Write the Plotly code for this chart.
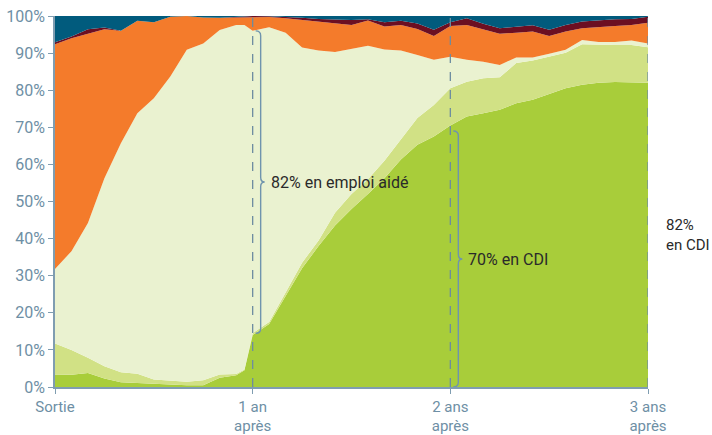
import plotly.graph_objects as go

# mois depuis la sortie (un point en plus juste avant "1 an")
mois = [0, 1, 2, 3, 4, 5, 6, 7, 8, 9, 10, 11, 11.5,
        12, 13, 14, 15, 16, 17, 18, 19, 20, 21, 22, 23, 24,
        25, 26, 27, 28, 29, 30, 31, 32, 33, 34, 35, 36]

# bornes supérieures cumulées (en %)
cdi = [3.4, 3.3, 3.8, 2.3, 1.3, 1.1, 0.7, 0.6, 0.5, 0.5, 2.5, 3.2, 4.5,
       14, 17, 24.5, 32, 38, 43.5, 48, 52, 56.3, 61.3, 65.3, 67.5, 70.5,
       72.9, 73.8, 74.7, 76.5, 77.4, 79, 80.5, 81.5, 82, 82.2, 82.1, 82]
cdd = [11.7, 10.0, 7.9, 5.6, 4.0, 3.6, 2.0, 1.8, 1.4, 1.8, 3.4, 3.5, 4.7,
       14.5, 17.5, 25.5, 33.5, 39.5, 47, 52, 56, 61, 66.6, 72.5, 76, 80.5,
       82.3, 83.2, 83.5, 87.3, 88.0, 89.0, 90.1, 92.4, 92.2, 92.2, 92.2, 91.6]
emploi_aide = [31.8, 36.6, 44.2, 56.3, 65.7, 73.8, 77.8, 83.7, 90.9, 92.6, 96.2, 97.6, 97.6,
               96.0, 97.0, 95.5, 91.5, 90.7, 90.3, 91.2, 92.0, 91.0, 90.7, 89.5, 88.2, 89.0,
               88.2, 87.7, 86.8, 88.8, 88.8, 89.8, 90.9, 93.5, 93.0, 93.0, 93.4, 92.6]
chomage = [92.4, 94.0, 95.2, 96.4, 96.0, 98.7, 98.3, 99.8, 100, 99.6, 99.5, 99.6, 99.7,
           99.7, 99.7, 99.4, 99.0, 98.5, 98.0, 97.6, 98.8, 97.2, 97.6, 96.5, 94.6, 97.3,
           97.6, 96.3, 95.2, 95.5, 95.8, 94.6, 95.8, 96.7, 97.1, 97.3, 97.6, 98.2]
inactivite = [92.9, 94.5, 96.4, 96.9, 96.0, 98.7, 98.3, 99.8, 100, 99.6, 99.5, 99.7, 99.8,
              100, 99.9, 99.8, 99.5, 99.2, 99.0, 98.9, 99.1, 98.3, 98.7, 98.0, 96.3, 98.3,
              99.4, 97.9, 96.7, 97.0, 97.5, 96.3, 97.6, 98.5, 98.9, 99.1, 99.2, 99.8]
total = [100] * len(mois)

series = [
    ("CDI", cdi, "#a8cd3a"),
    ("CDD", cdd, "#d1e185"),
    ("Emploi aidé", emploi_aide, "#eaf2d0"),
    ("Chômage", chomage, "#f47b2b"),
    ("Inactivité", inactivite, "#6c0f22"),
    ("Autre", total, "#015b7d"),
]

tick_mois = [0, 12, 24, 36]
tick_txt = ["Sortie", "1 an<br>après", "2 ans<br>après", "3 ans<br>après"]

# accolades : (mois, bas, haut, texte, taille)
accolades = [
    (12, 14.5, 96, "82% en emploi aidé", 16),
    (24, 0, 69, "70% en CDI", 16),
    (36, 0, 82, "82%<br>en CDI", 15),
]

bleu = "#7f9db1"
police = "Roboto, Liberation Sans, sans-serif"

fig = go.Figure()
for i, (nom, y, couleur) in enumerate(series):
    fig.add_trace(go.Scatter(
        x=mois, y=y, name=nom, mode="lines",
        line=dict(width=0, color=couleur),
        fill="tozeroy" if i == 0 else "tonexty",
        fillcolor=couleur, hoverinfo="skip", showlegend=False))

# lignes verticales pointillées
for m in tick_mois[1:]:
    fig.add_shape(type="line", xref="x", yref="y", x0=m, x1=m, y0=0, y1=100,
                  line=dict(color="#6d8ca0", width=1.3, dash="dash"))

r = 1.3
for m, y0, y1, txt, taille in accolades:
    mid = (y0 + y1) / 2
    e, s, c = 3, 8, 12
    path = (f"M {e},{y1} Q {s},{y1} {s},{y1 - r} L {s},{mid + r} "
            f"Q {s},{mid} {c},{mid} Q {s},{mid} {s},{mid - r} "
            f"L {s},{y0 + r} Q {s},{y0} {e},{y0}")
    fig.add_shape(type="path", path=path, xref="x", yref="y",
                  xsizemode="pixel", xanchor=m,
                  line=dict(color="#6f94ad", width=1.4))
    fig.add_annotation(x=m, y=mid, text=txt, showarrow=False, xref="x", yref="y",
                       xanchor="left", yanchor="middle", xshift=16, align="left",
                       font=dict(family=police, size=taille, color="#2a2a2a"))

fig.update_layout(
    width=712, height=435,
    margin=dict(l=55, r=64, t=16, b=48),
    plot_bgcolor="white", paper_bgcolor="white",
    font=dict(family=police, size=16, color="#6e8fa5"),
)
fig.update_xaxes(range=[0, 36], tickvals=tick_mois, ticktext=tick_txt,
                 showgrid=False, zeroline=False, showline=True, linecolor=bleu,
                 linewidth=1.5, ticks="outside", ticklen=5, tickcolor=bleu,
                 automargin=False, tickfont=dict(size=15, color="#6e8fa5"))
fig.update_yaxes(range=[0, 100], dtick=10, ticksuffix="%",
                 showgrid=False, zeroline=False, showline=True, linecolor=bleu,
                 linewidth=1.5, ticks="outside", ticklen=5, tickcolor=bleu,
                 automargin=False, tickfont=dict(size=16, color="#6e8fa5"))

# pas de marge autour de la page, pas de barre d'outils
fig.write_html("out.html", config={"displayModeBar": False},
               post_script="document.body.style.margin='0';")
